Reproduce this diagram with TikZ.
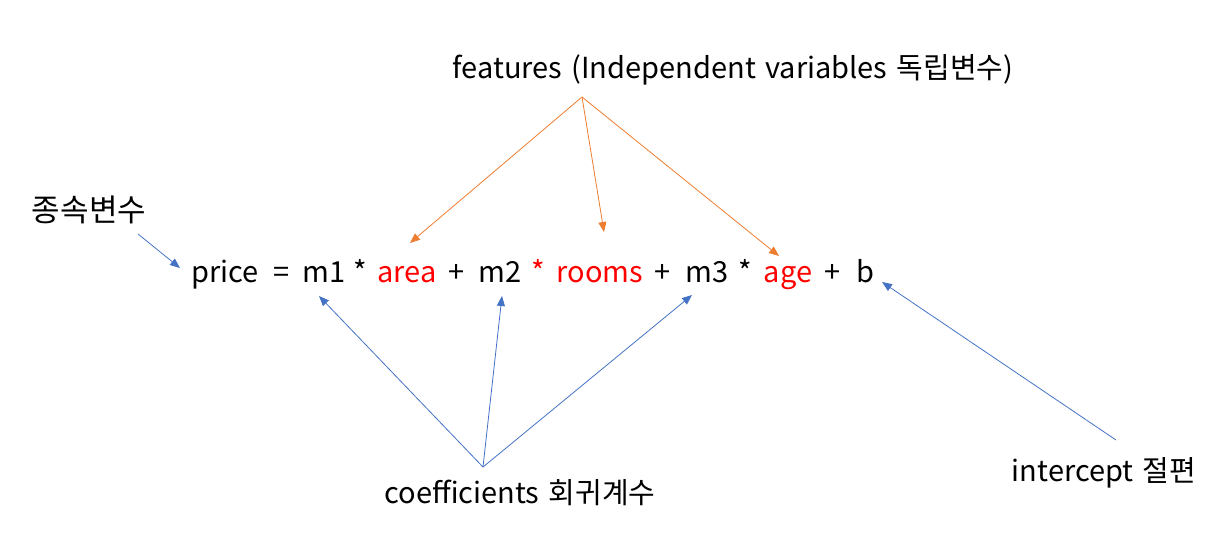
\documentclass[tikz,border=0pt]{standalone}
\usepackage{fontspec}
\setmainfont{Noto Sans CJK KR}
\usepackage{tikz}
\usetikzlibrary{arrows.meta}
\usepackage{xcolor}
\definecolor{featorange}{RGB}{237,125,49}
\definecolor{coefblue}{RGB}{68,114,196}
\definecolor{varred}{RGB}{255,0,0}
\newcommand\widespace{\spaceskip 0.32em\relax}

\tikzset{
  tok/.style={inner sep=0pt,anchor=base,font=\fontsize{29}{34}\selectfont},
  var/.style={tok,text=varred},
  lbl/.style={inner sep=0pt,font={\fontsize{29}{34}\selectfont\widespace}},
  featarrow/.style={featorange,line width=0.8pt,-{Triangle[length=10pt,width=8pt]}},
  coefarrow/.style={coefblue,line width=0.8pt,-{Triangle[length=10pt,width=8pt]}}
}

\begin{document}
\begin{tikzpicture}[x=1pt,y=1pt]
\useasboundingbox (0,0) rectangle (1228,-542);
% equation
\node[tok] (price) at (225,-282){price};
\node[tok] (eq) at (282,-282){=};
\node[tok] (m1) at (324,-282){m1};
\node[tok] (s1) at (360,-282){*};
\node[var] (area) at (407,-282){area};
\node[tok] (p1) at (457,-282){+};
\node[tok] (m2) at (500,-282){m2};
\node[var] (s2) at (538,-282){*};
\node[var] (rooms) at (600,-282){rooms};
\node[tok] (p2) at (663,-282){+};
\node[tok] (m3) at (707,-282){m3};
\node[tok] (s3) at (745,-282){*};
\node[var] (age) at (788,-282){age};
\node[tok] (p3) at (833,-282){+};
\node[tok] (b) at (865,-282){b};
% labels
\node[lbl] (feat) at (733,-70){features (Independent variables 독립변수)};
\node[lbl,font=\fontsize{31}{36}\selectfont] (dep) at (89,-210){종속변수};
\node[lbl] (coef) at (520,-493){coefficients 회귀계수};
\node[lbl] (icpt) at (1104,-473){intercept 절편};
% arrow roots and tips
\coordinate (featroot) at (582,-97);
\coordinate (coefroot) at (483,-467);
\coordinate (deproot) at (138,-234);
\coordinate (icptroot) at (1116,-440);
\coordinate (areatip) at (410,-243);
\coordinate (roomstip) at (604,-232);
\coordinate (agetip) at (779,-256);
\coordinate (m1tip) at (319,-296);
\coordinate (m2tip) at (502,-296);
\coordinate (m3tip) at (692,-295);
\coordinate (pricetip) at (180,-268);
\coordinate (btip) at (882,-282);
% arrows
\draw[featarrow] (featroot) -- (areatip);
\draw[featarrow] (featroot) -- (roomstip);
\draw[featarrow] (featroot) -- (agetip);
\draw[coefarrow] (coefroot) -- (m1tip);
\draw[coefarrow] (coefroot) -- (m2tip);
\draw[coefarrow] (coefroot) -- (m3tip);
\draw[coefarrow] (deproot) -- (pricetip);
\draw[coefarrow] (icptroot) -- (btip);
\end{tikzpicture}
\end{document}
